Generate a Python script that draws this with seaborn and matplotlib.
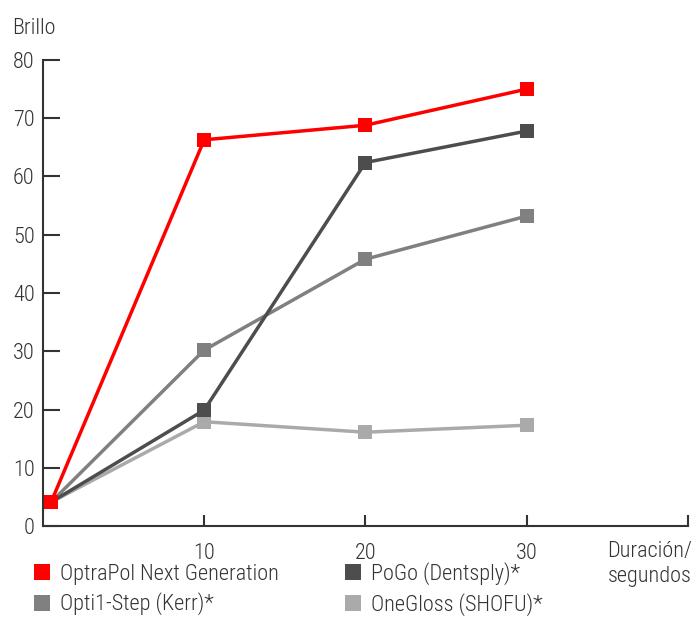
import pandas as pd
import numpy as np
import matplotlib
matplotlib.use("Agg")
import matplotlib.pyplot as plt
from matplotlib.lines import Line2D
import seaborn as sns

# data
durations = [0.5, 10, 20, 30]
products = ["OptraPol Next Generation", "PoGo (Dentsply)*", "Opti1-Step (Kerr)*", "OneGloss (SHOFU)*"]
optrapol = [4.1, 66.3, 68.8, 75.0]
pogo = [4.1, 19.9, 62.4, 67.8]
opti = [4.1, 30.2, 45.8, 53.2]
onegloss = [4.1, 17.9, 16.1, 17.3]
colors = ["#ff0000", "#4d4d4d", "#808080", "#aaaaaa"]

df = pd.DataFrame({
    "dur": durations * 4,
    "brillo": optrapol + pogo + opti + onegloss,
    "prod": np.repeat(products, len(durations)),
})

sns.set_style("white")
plt.rcParams["font.family"] = ["Roboto Condensed", "DejaVu Sans"]
plt.rcParams["font.weight"] = "light"
txt = "#333333"
fs = 16

fig = plt.figure(figsize=(6.94, 6.41), dpi=100)
ax = fig.add_axes([0.062, 0.1794, 0.929, 0.727])

# draw grey ones first so the red line sits on top
order = products[::-1]
pal = dict(zip(products, colors))
sns.lineplot(data=df, x="dur", y="brillo", hue="prod", hue_order=order, palette=pal,
             marker="s", markersize=10, markeredgewidth=0, linewidth=2.5,
             legend=False, ax=ax)

ax.set_xlim(0, 40)
ax.set_ylim(0, 80)
ax.set_xticks([10, 20, 30, 40])
ax.set_xticklabels(["10", "20", "30", ""])
ax.set_yticks(range(0, 81, 10))
ax.set_xlabel("")
ax.set_ylabel("")
for s in ["top", "right"]:
    ax.spines[s].set_visible(False)
for s in ["left", "bottom"]:
    ax.spines[s].set_color(txt)
    ax.spines[s].set_linewidth(1.5)
ax.tick_params(axis="y", direction="in", length=12, width=1.5, color=txt,
               labelsize=fs, labelcolor=txt, pad=6, left=True)
ax.tick_params(axis="x", direction="in", length=8, width=1.5, color=txt,
               labelsize=fs, labelcolor=txt, pad=12, bottom=True)

fig.text(0.017, 0.956, "Brillo", fontsize=fs, color=txt, va="center")
fig.text(0.997, 0.12, "Duración/\nsegundos", fontsize=fs, color=txt,
         ha="right", va="center", linespacing=1.25)

handles = [Line2D([], [], marker="s", linestyle="none", color=c, markersize=12,
                  markeredgewidth=0) for c in colors]
# legend order: row 1 OptraPol, PoGo; row 2 Opti1-Step, OneGloss
leg_h = [handles[0], handles[2], handles[1], handles[3]]
leg_l = [products[0], products[2], products[1], products[3]]
fig.legend(leg_h, leg_l, ncol=2, loc="upper left", bbox_to_anchor=(0.035, 0.137),
           frameon=False, fontsize=fs, labelcolor=txt, handlelength=0.8,
           handletextpad=0.4, columnspacing=2.95, labelspacing=0.35, borderaxespad=0)

fig.savefig("out.png", dpi=100)
